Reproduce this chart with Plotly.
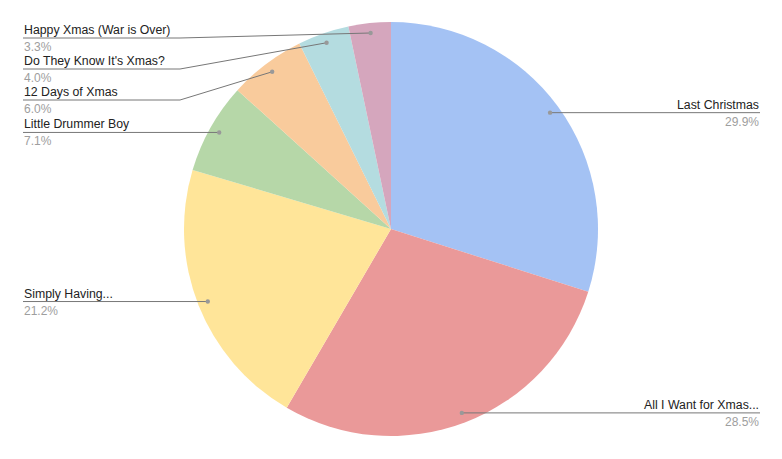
import math
import plotly.graph_objects as go

songs = ["Last Christmas", "All I Want for Xmas...", "Simply Having...", "Little Drummer Boy",
         "12 Days of Xmas", "Do They Know It's Xmas?", "Happy Xmas (War is Over)"]
shares = [29.9, 28.5, 21.2, 7.1, 6.0, 4.0, 3.3]
colors = ["#a4c2f4", "#ea9999", "#ffe599", "#b6d7a8", "#f9cb9c", "#b4dce0", "#d5a6bd"]

OFF = 8  # page body margin
W, H = 782 - OFF, 459 - OFF
cx, cy, R = 391 - OFF, 229 - OFF, 207
DOT_R = 0.952 * R
LEFT_X, RIGHT_X, BEND_X = 23 - OFF, 760 - OFF, 180 - OFF
MIN_Y, GAP = 38 - OFF, 31

def fx(x):
    return x / W

def fy(y):
    return 1 - y / H

fig = go.Figure(go.Pie(
    labels=songs, values=shares, sort=False, direction="clockwise", rotation=0,
    marker=dict(colors=colors, line=dict(width=0)),
    textinfo="none", hoverinfo="label+percent",
    domain=dict(x=[fx(cx - R), fx(cx + R)], y=[fy(cy + R), fy(cy - R)]),
    showlegend=False,
))

total = sum(shares)
cum = 0
items = []
for name, v in zip(songs, shares):
    mid = (cum + v / 2) / total * 2 * math.pi
    cum += v
    dx, dy = math.sin(mid), -math.cos(mid)
    items.append((name, v, cx + DOT_R * dx, cy + DOT_R * dy, dx >= 0))

shapes, annos = [], []
font_name = dict(family="Arial, Liberation Sans", size=12.3, color="#222222")
font_pct = dict(family="Arial, Liberation Sans", size=12, color="#9e9e9e")
LINE = dict(color="#777777", width=1)

def add_label(name, v, px, py, ly, right):
    if right:
        shapes.append(dict(type="line", xref="paper", yref="paper", x0=fx(px), y0=fy(py),
                           x1=fx(RIGHT_X), y1=fy(ly), line=LINE))
        tx, anchor = RIGHT_X, "right"
    else:
        if abs(ly - py) > 0.5:
            shapes.append(dict(type="line", xref="paper", yref="paper", x0=fx(LEFT_X), y0=fy(ly),
                               x1=fx(BEND_X), y1=fy(ly), line=LINE))
            shapes.append(dict(type="line", xref="paper", yref="paper", x0=fx(BEND_X), y0=fy(ly),
                               x1=fx(px), y1=fy(py), line=LINE))
        else:
            shapes.append(dict(type="line", xref="paper", yref="paper", x0=fx(LEFT_X), y0=fy(ly),
                               x1=fx(px), y1=fy(py), line=LINE))
        tx, anchor = LEFT_X, "left"
    shapes.append(dict(type="circle", xref="paper", yref="paper",
                       x0=fx(px - 2.2), x1=fx(px + 2.2), y0=fy(py + 2.2), y1=fy(py - 2.2),
                       fillcolor="#999999", line=dict(width=0)))
    annos.append(dict(x=fx(tx), y=fy(ly), xref="paper", yref="paper", text=name, showarrow=False,
                      xanchor=anchor, yanchor="bottom", font=font_name, borderpad=0, yshift=0))
    annos.append(dict(x=fx(tx), y=fy(ly), xref="paper", yref="paper", text=f"{v:.1f}%", showarrow=False,
                      xanchor=anchor, yanchor="top", font=font_pct, borderpad=0, yshift=-1))

for name, v, px, py, right in items:
    if right:
        add_label(name, v, px, py, py, True)

left = sorted([it for it in items if not it[4]], key=lambda t: t[3])
prev = None
for name, v, px, py, right in left:
    ly = max(py, MIN_Y if prev is None else prev + GAP)
    prev = ly
    add_label(name, v, px, py, ly, False)

fig.update_layout(width=W, height=H, margin=dict(l=0, r=0, t=0, b=0),
                  paper_bgcolor="white", plot_bgcolor="white",
                  shapes=shapes, annotations=annos)
fig.write_html("out.html")
